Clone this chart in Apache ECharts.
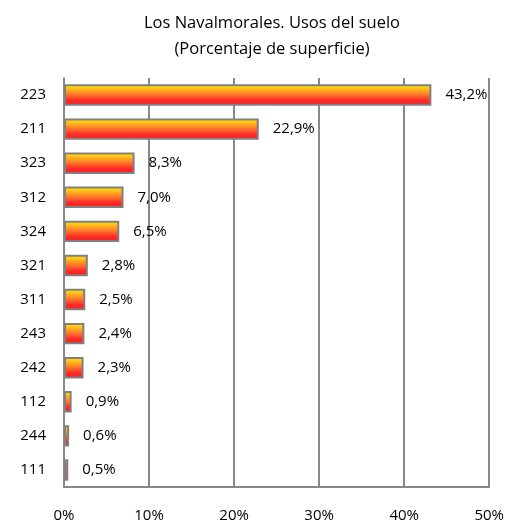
<!DOCTYPE html>
<html>
<head>
<meta charset="utf-8">
<script src="https://cdn.jsdelivr.net/npm/echarts@6/dist/echarts.min.js"></script>
<style>
  html, body { margin: 0; padding: 0; background: #fff; }
  #chart { width: 507px; height: 526px; }
</style>
</head>
<body>
<div id="chart"></div>
<script>
  // categorías (de arriba a abajo) y porcentajes
  const categories = ['223', '211', '323', '312', '324', '321', '311', '243', '242', '112', '244', '111']
  const values = [43.2, 22.9, 8.3, 7.0, 6.5, 2.8, 2.5, 2.4, 2.3, 0.9, 0.6, 0.5]
  const tickLabels = ['0%', '10%', '20%', '30%', '40%', '50%']

  const font = '"Open Sans", "Liberation Sans", sans-serif'
  const chart = echarts.init(document.getElementById('chart'))

  const option = {
    animation: false,
    title: {
      text: 'Los Navalmorales. Usos del suelo\n(Porcentaje de superficie)',
      left: 267,
      textAlign: 'center',
      top: 5,
      textStyle: {
        fontFamily: font,
        fontSize: 16.5,
        fontWeight: 'normal',
        color: '#000',
        lineHeight: 26
      }
    },
    grid: {
      left: 64,
      right: 17,
      top: 78,
      bottom: 39,
      containLabel: false
    },
    xAxis: {
      type: 'value',
      min: 0,
      max: 50,
      interval: 10,
      axisLine: { show: true, lineStyle: { color: '#888', width: 2 } },
      axisTick: { show: false },
      splitLine: { show: true, lineStyle: { color: '#888', width: 2 } },
      axisLabel: {
        margin: 21,
        fontFamily: font,
        fontSize: 15,
        color: '#000',
        formatter: v => tickLabels[v / 10]
      }
    },
    yAxis: {
      type: 'category',
      inverse: true,
      data: categories,
      axisLine: { show: true, lineStyle: { color: '#888', width: 2 } },
      axisTick: { show: false },
      axisLabel: {
        margin: 18,
        fontFamily: font,
        fontSize: 15,
        color: '#000'
      }
    },
    series: [
      {
        type: 'bar',
        data: values,
        barWidth: '63%',
        itemStyle: {
          color: new echarts.graphic.LinearGradient(0, 0, 0, 1, [
            { offset: 0, color: '#fff200' },
            { offset: 0.4, color: '#ff8c2a' },
            { offset: 0.75, color: '#ff2a2a' },
            { offset: 1, color: '#ff1a1a' }
          ]),
          borderColor: '#808080',
          borderWidth: 2
        },
        label: {
          show: true,
          position: 'right',
          distance: 14,
          fontFamily: font,
          fontSize: 15,
          color: '#000',
          formatter: p => p.value.toFixed(1).replace('.', ',') + '%'
        }
      }
    ]
  }

  chart.setOption(option)
</script>
</body>
</html>
